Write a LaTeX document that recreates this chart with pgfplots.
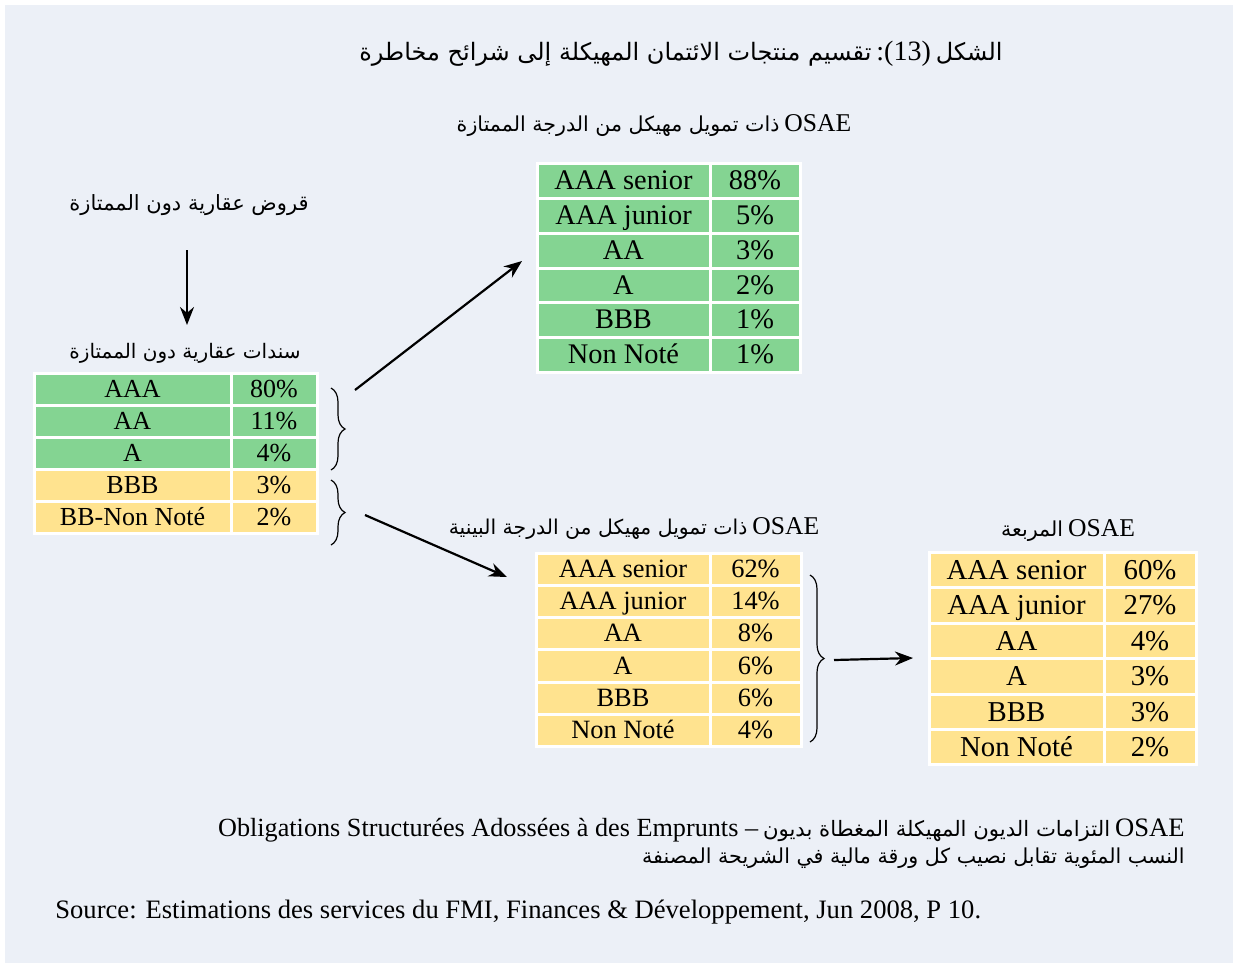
\documentclass[border=0pt]{standalone}
\usepackage{pgfplots}
\pgfplotsset{compat=1.18}
\usepackage{fontspec}
\setmainfont{Liberation Serif}
\newfontfamily\arabicfont[Script=Arabic]{DejaVu Sans}
\TeXXeTstate=1
\usetikzlibrary{decorations.pathreplacing,arrows.meta}
\definecolor{bg}{RGB}{236,240,247}
\definecolor{cg}{RGB}{132,212,146}
\definecolor{cy}{RGB}{255,227,143}
% x1 xm x2 y1 y2 colour label value fontsize(pt)
\newcommand\trow[9]{%
 \filldraw[fill=#6,draw=white,line width=1.5pt] (axis cs:#1,#4) rectangle (axis cs:#2,#5);
 \filldraw[fill=#6,draw=white,line width=1.5pt] (axis cs:#2,#4) rectangle (axis cs:#3,#5);
 \node[font=\fontsize{#9}{#9}\selectfont,inner sep=0pt,anchor=base,yshift={-0.33*#9pt}] at (axis cs:{(#1+#2)/2},{(#4+#5)/2}) {#7};
 \node[font=\fontsize{#9}{#9}\selectfont,inner sep=0pt,anchor=base,yshift={-0.33*#9pt}] at (axis cs:{(#2+#3)/2},{(#4+#5)/2}) {#8};
}
% arabic text at given size
\newcommand\ar[2]{{\fontsize{#1}{#1}\arabicfont #2}}
\newcommand\la[2]{{\fontsize{#1}{#1}\selectfont #2}}
\begin{document}
\begin{tikzpicture}
\begin{axis}[width=618pt,height=483pt,scale only axis,xmin=0,xmax=1236,ymin=0,ymax=966,
  y dir=reverse,hide axis,clip=false]
\fill[white] (axis cs:0,0) rectangle (axis cs:1236,966);
\fill[bg] (axis cs:5,5) rectangle (axis cs:1233,963);
% titles
\node[inner sep=0pt,anchor=base] at (axis cs:681,60) {\ar{12}{\beginR تقسيم منتجات الائتمان المهيكلة إلى شرائح مخاطرة\endR} \la{14}{:(13)} \ar{12}{\beginR الشكل\endR}};
\node[inner sep=0pt,anchor=base] at (axis cs:654,131) {\ar{10.3}{\beginR ذات تمويل مهيكل  من الدرجة الممتازة\endR} \la{12.8}{OSAE}};
\node[inner sep=0pt,anchor=base] at (axis cs:189,210) {\ar{10.5}{\beginR قروض عقارية دون الممتازة\endR}};
\node[inner sep=0pt,anchor=base] at (axis cs:185,358) {\ar{10}{\beginR سندات عقارية دون الممتازة\endR}};
\node[inner sep=0pt,anchor=base] at (axis cs:634,534) {\ar{10.2}{\beginR ذات تمويل مهيكل من الدرجة البينية\endR} \la{12.8}{OSAE}};
\node[inner sep=0pt,anchor=base] at (axis cs:1068,536) {\ar{10.3}{\beginR المربعة\endR} \la{12.8}{OSAE}};
% left table
\trow{34}{231}{317}{373}{405}{cg}{AAA}{80\%}{13}
\trow{34}{231}{317}{405}{437}{cg}{AA}{11\%}{13}
\trow{34}{231}{317}{437}{469}{cg}{A}{4\%}{13}
\trow{34}{231}{317}{469}{501}{cy}{BBB}{3\%}{13}
\trow{34}{231}{317}{501}{533}{cy}{BB-Non Noté}{2\%}{13}
% top table
\trow{537}{710}{800}{163}{198}{cg}{AAA senior}{88\%}{14.2}
\trow{537}{710}{800}{198}{233}{cg}{AAA junior}{5\%}{14.2}
\trow{537}{710}{800}{233}{268}{cg}{AA}{3\%}{14.2}
\trow{537}{710}{800}{268}{302}{cg}{A}{2\%}{14.2}
\trow{537}{710}{800}{302}{337}{cg}{BBB}{1\%}{14.2}
\trow{537}{710}{800}{337}{372}{cg}{Non Noté}{1\%}{14.2}
% middle table
\trow{536}{710}{801}{553}{585}{cy}{AAA senior}{62\%}{13.2}
\trow{536}{710}{801}{585}{617}{cy}{AAA junior}{14\%}{13.2}
\trow{536}{710}{801}{617}{649}{cy}{AA}{8\%}{13.2}
\trow{536}{710}{801}{649}{682}{cy}{A}{6\%}{13.2}
\trow{536}{710}{801}{682}{714}{cy}{BBB}{6\%}{13.2}
\trow{536}{710}{801}{714}{746}{cy}{Non Noté}{4\%}{13.2}
% right table
\trow{929}{1104}{1196}{552}{587}{cy}{AAA senior}{60\%}{14.4}
\trow{929}{1104}{1196}{587}{623}{cy}{AAA junior}{27\%}{14.4}
\trow{929}{1104}{1196}{623}{658}{cy}{AA}{4\%}{14.4}
\trow{929}{1104}{1196}{658}{694}{cy}{A}{3\%}{14.4}
\trow{929}{1104}{1196}{694}{729}{cy}{BBB}{3\%}{14.4}
\trow{929}{1104}{1196}{729}{764}{cy}{Non Noté}{2\%}{14.4}
% braces
\draw[decorate,decoration={brace,amplitude=7pt},line width=0.6pt] (axis cs:331,388) -- (axis cs:331,470);
\draw[decorate,decoration={brace,amplitude=7pt},line width=0.6pt] (axis cs:331,480) -- (axis cs:331,545);
\draw[decorate,decoration={brace,amplitude=7pt},line width=0.6pt] (axis cs:810,575) -- (axis cs:810,742);
% arrows
\draw[-{Stealth[length=9pt,width=7pt]},line width=1.1pt] (axis cs:187,250) -- (axis cs:187,325);
\draw[-{Stealth[length=9pt,width=7pt]},line width=1.1pt] (axis cs:355,390) -- (axis cs:522,261);
\draw[-{Stealth[length=9pt,width=7pt]},line width=1.1pt] (axis cs:365,515) -- (axis cs:507,577);
\draw[-{Stealth[length=9pt,width=7pt]},line width=1.1pt] (axis cs:834,660) -- (axis cs:913,658);
% notes
\node[inner sep=0pt,anchor=base east] at (axis cs:1185,836) {\la{13.1}{Obligations Structurées Adossées à des Emprunts –} \ar{10.6}{\beginR التزامات الديون المهيكلة المغطاة بديون\endR} \la{13.3}{OSAE}};
\node[inner sep=0pt,anchor=base east] at (axis cs:1185,863) {\ar{10.3}{\beginR النسب المئوية تقابل نصيب كل ورقة مالية في الشريحة المصنفة\endR}};
\node[inner sep=0pt,anchor=base west] at (axis cs:55,918) {\la{13.3}{Source: Estimations des services du FMI, Finances \& Développement, Jun 2008, P 10.}};
\end{axis}
\end{tikzpicture}
\end{document}
